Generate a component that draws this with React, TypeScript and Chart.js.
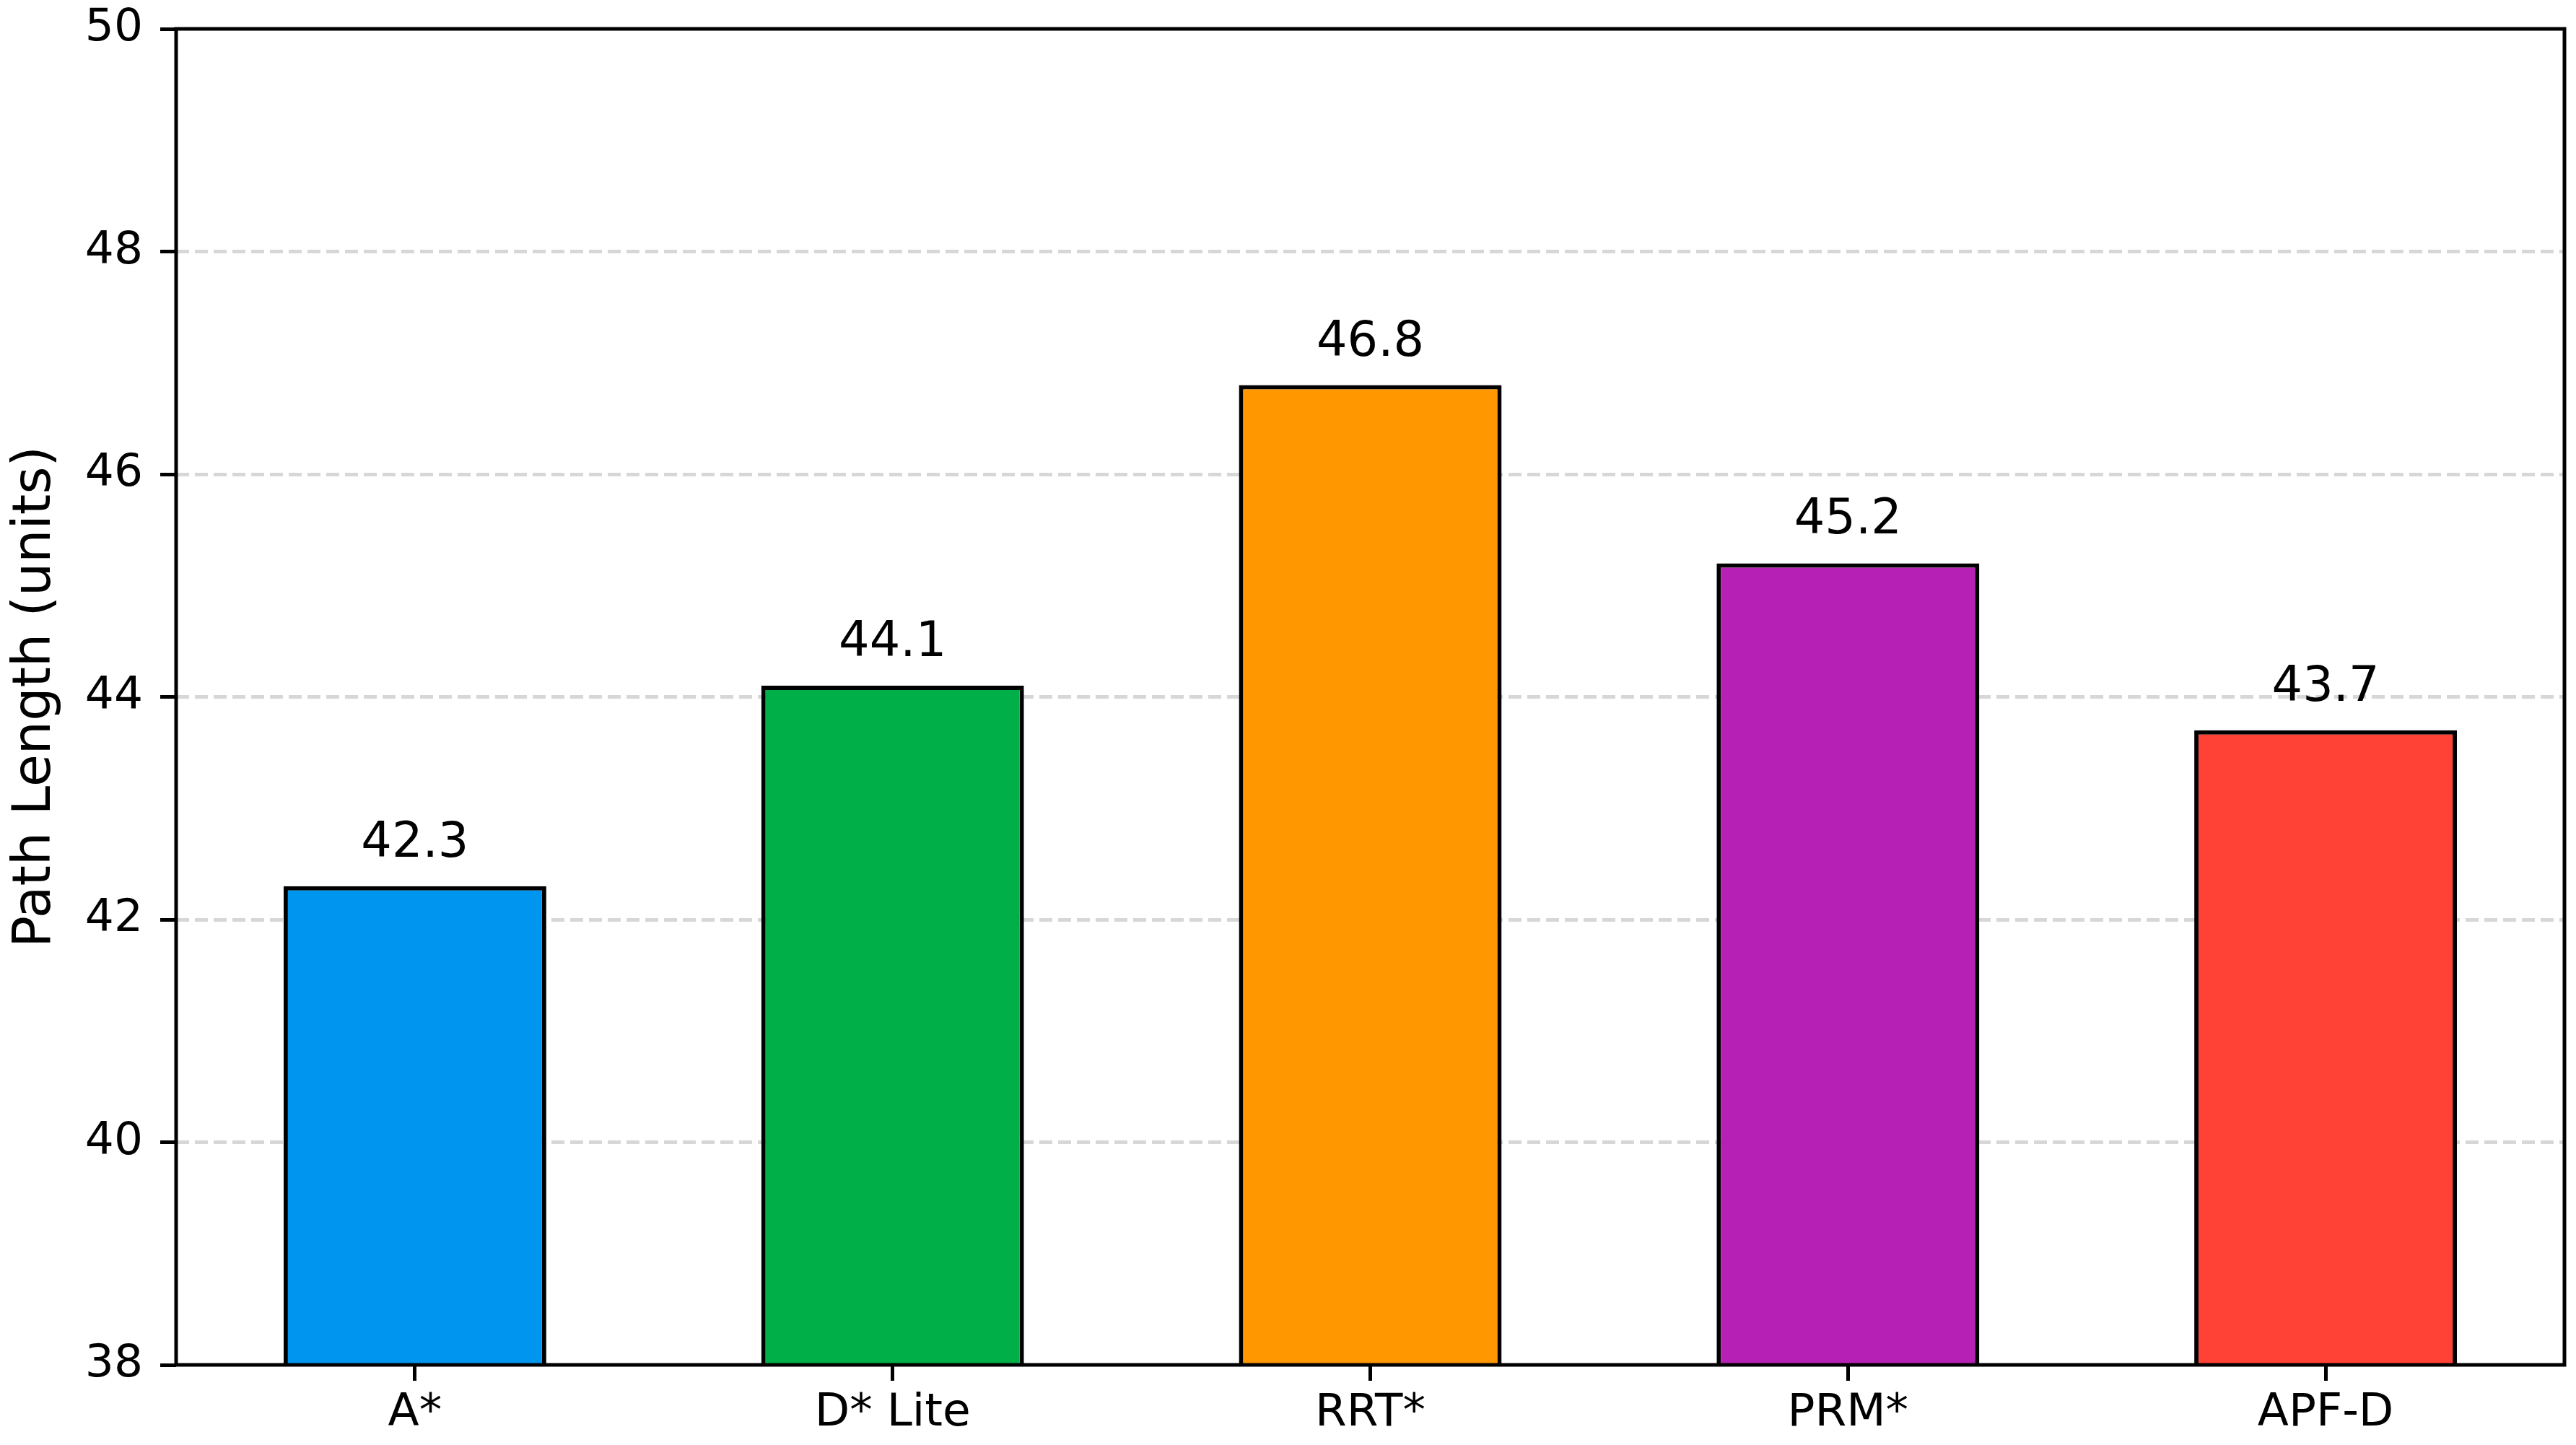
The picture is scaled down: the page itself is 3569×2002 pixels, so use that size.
import React, { useEffect, useRef } from "react";
import { Chart, registerables } from "chart.js";

Chart.register(...registerables);

const planners = ["A*", "D* Lite", "RRT*", "PRM*", "APF-D"];
const pathLengths = [42.3, 44.1, 46.8, 45.2, 43.7];
const barColors = ["#0096F0", "#00AF48", "#FF9800", "#B620B4", "#FF4136"];
const yTicks = [38, 40, 42, 44, 46, 48, 50];

const FONT = "'DejaVu Sans', 'Liberation Sans', sans-serif";

// value labels above each bar
const barLabels = {
  id: "barLabels",
  afterDatasetsDraw(chart: Chart) {
    const { ctx } = chart;
    const yScale = chart.scales.y;
    const meta = chart.getDatasetMeta(0);
    ctx.save();
    ctx.font = `67px ${FONT}`;
    ctx.fillStyle = "#000";
    ctx.textAlign = "center";
    ctx.textBaseline = "alphabetic";
    meta.data.forEach((bar: any, i: number) => {
      const v = pathLengths[i];
      ctx.fillText(v.toFixed(1), bar.x, yScale.getPixelForValue(v) - 41);
    });
    ctx.restore();
  },
};

// full box around the plot, matplotlib style
const frame = {
  id: "frame",
  afterDraw(chart: Chart) {
    const { ctx, chartArea } = chart;
    ctx.save();
    ctx.strokeStyle = "#000";
    ctx.lineWidth = 5;
    ctx.strokeRect(
      chartArea.left,
      chartArea.top,
      chartArea.right - chartArea.left,
      chartArea.bottom - chartArea.top
    );
    ctx.restore();
  },
};

function PathLengthChart() {
  const canvasRef = useRef<HTMLCanvasElement>(null);
  const chartRef = useRef<Chart | null>(null);

  useEffect(() => {
    if (!canvasRef.current) return;
    if (chartRef.current) chartRef.current.destroy();

    chartRef.current = new Chart(canvasRef.current, {
      type: "bar",
      data: {
        labels: planners,
        datasets: [
          {
            data: pathLengths,
            backgroundColor: barColors,
            borderColor: "#000",
            borderWidth: 6,
            borderSkipped: false,
            barPercentage: 0.55,
            categoryPercentage: 1,
          },
        ],
      },
      options: {
        animation: false,
        responsive: true,
        maintainAspectRatio: false,
        layout: { padding: { top: 40, right: 16, left: 0, bottom: 0 } },
        plugins: {
          legend: { display: false },
          tooltip: { enabled: false },
        },
        scales: {
          x: {
            offset: true,
            grid: {
              offset: false,
              drawOnChartArea: false,
              drawTicks: true,
              tickLength: 22,
              tickColor: "#000",
              tickWidth: 5,
            },
            border: { display: false },
            ticks: {
              color: "#000",
              font: { family: FONT, size: 63 },
              padding: 8,
              maxRotation: 0,
            },
            afterFit: (scale: any) => {
              scale.height = 111;
              scale.paddingLeft = 0;
              scale.paddingRight = 0;
            },
          },
          y: {
            min: yTicks[0],
            max: yTicks[yTicks.length - 1],
            z: 1,
            afterBuildTicks: (scale: any) => {
              scale.ticks = yTicks.map((value) => ({ value }));
            },
            grid: {
              color: (ctx: any) =>
                ctx.tick &&
                (ctx.tick.value === yTicks[0] ||
                  ctx.tick.value === yTicks[yTicks.length - 1])
                  ? "rgba(0,0,0,0)"
                  : "rgba(176,176,176,0.5)",
              lineWidth: 5,
              drawTicks: true,
              tickLength: 22,
              tickColor: "#000",
              tickWidth: 5,
            },
            border: { display: false, dash: [18, 8] },
            ticks: {
              color: "#000",
              font: { family: FONT, size: 63 },
              padding: 24,
            },
            title: {
              display: true,
              text: "Path Length (units)",
              color: "#000",
              font: { family: FONT, size: 73 },
              padding: { top: 6, bottom: 0 },
            },
            afterFit: (scale: any) => {
              scale.width = 244;
              scale.paddingTop = 0;
              scale.paddingBottom = 0;
            },
          },
        },
      },
      plugins: [barLabels, frame],
    });

    return () => {
      chartRef.current?.destroy();
      chartRef.current = null;
    };
  }, []);

  return (
    <div
      style={{
        position: "fixed",
        left: 0,
        top: 0,
        width: 3569,
        height: 2002,
        background: "#fff",
      }}
    >
      <canvas
        ref={canvasRef}
        role="img"
        aria-label="Path length by planner: A* 42.3, D* Lite 44.1, RRT* 46.8, PRM* 45.2, APF-D 43.7"
      />
    </div>
  );
}

export default function App() {
  return <PathLengthChart />;
}
